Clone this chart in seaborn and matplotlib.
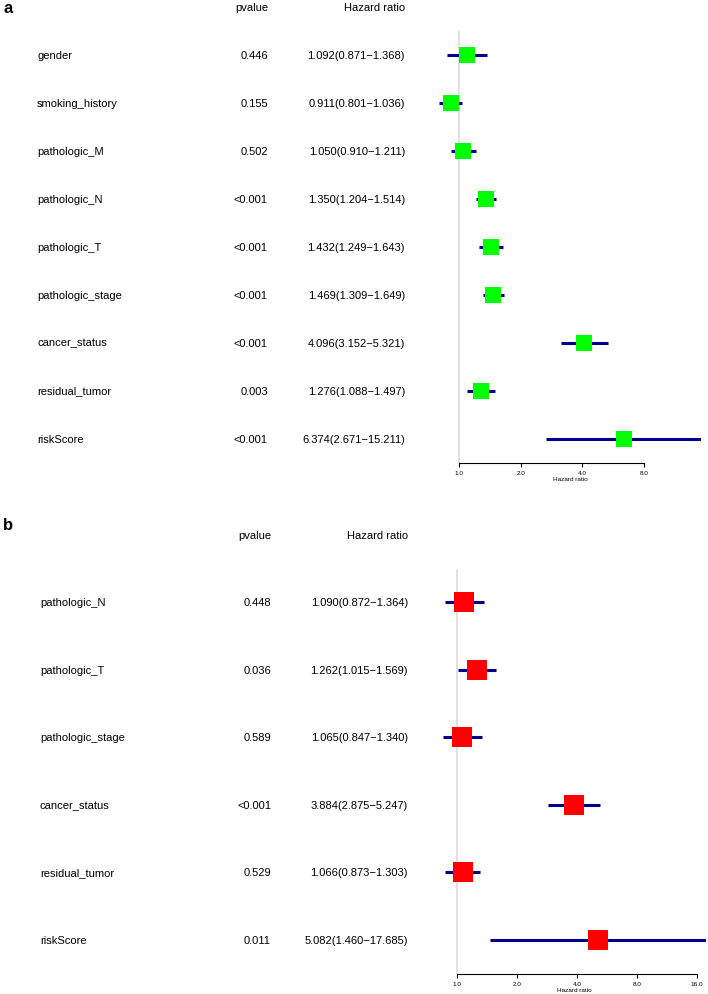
import pandas as pd
import matplotlib
matplotlib.use("Agg")
import matplotlib.pyplot as plt
import matplotlib.transforms as mtransforms
import seaborn as sns

# --- data: panel a (univariate) ---
a_vars = ["gender", "smoking_history", "pathologic_M", "pathologic_N", "pathologic_T",
          "pathologic_stage", "cancer_status", "residual_tumor", "riskScore"]
a_pval = ["0.446", "0.155", "0.502", "<0.001", "<0.001", "<0.001", "<0.001", "0.003", "<0.001"]
a_hr = [1.092, 0.911, 1.050, 1.350, 1.432, 1.469, 4.096, 1.276, 6.374]
a_low = [0.871, 0.801, 0.910, 1.204, 1.249, 1.309, 3.152, 1.088, 2.671]
a_high = [1.368, 1.036, 1.211, 1.514, 1.643, 1.649, 5.321, 1.497, 15.211]
a_ticks = [1, 2, 4, 8]

# --- data: panel b (multivariate) ---
b_vars = ["pathologic_N", "pathologic_T", "pathologic_stage", "cancer_status",
          "residual_tumor", "riskScore"]
b_pval = ["0.448", "0.036", "0.589", "<0.001", "0.529", "0.011"]
b_hr = [1.090, 1.262, 1.065, 3.884, 1.066, 5.082]
b_low = [0.872, 1.015, 0.847, 2.875, 0.873, 1.460]
b_high = [1.364, 1.569, 1.340, 5.247, 1.303, 17.685]
b_ticks = [1, 2, 4, 8, 16]

W, H = 708, 995

sns.set_theme(style="white")
plt.rcParams["font.family"] = ["Liberation Sans", "DejaVu Sans"]
plt.rcParams.update({"text.color": "black", "axes.labelcolor": "black",
                     "xtick.color": "black"})


def forest(fig, box, letter, letter_y, names, pvals, hr, low, high, ticks, color, msize, cols):
    # box = (left, top, right, bottom) in pixels
    left, top, right, bottom = box
    ax = fig.add_axes([left / W, 1 - bottom / H, (right - left) / W, (bottom - top) / H])
    df = pd.DataFrame({"name": names, "hr": hr, "low": low, "high": high,
                       "row": range(len(names))})
    ax.set_xscale("log", base=2)
    ax.axvline(1, color="#d9d9d9", lw=1.1, zorder=0)
    ax.hlines(df["row"], df["low"], df["high"], color="#00008b", lw=2.2, zorder=2)
    sns.scatterplot(data=df, x="hr", y="row", marker="s", s=msize, color=color,
                    linewidth=0, ax=ax, zorder=3, legend=False)
    ax.set_xlim(min(low), max(high))
    ax.set_ylim(len(names) - 0.5, -0.5)
    ax.set_yticks([])
    ax.set_ylabel("")
    for s in ["top", "right", "left"]:
        ax.spines[s].set_visible(False)
    ax.spines["bottom"].set_bounds(ticks[0], ticks[-1])
    ax.spines["bottom"].set_linewidth(0.8)
    ax.spines["bottom"].set_color("black")
    ax.set_xticks(ticks)
    ax.set_xticklabels([f"{t:.1f}" for t in ticks])
    ax.minorticks_off()
    ax.tick_params(axis="x", bottom=True, direction="out", length=3.2, width=0.8,
                   labelsize=4.6, pad=2, color="black")
    ax.set_xlabel("Hazard ratio", fontsize=4.6, labelpad=1)

    # text columns
    tr = mtransforms.blended_transform_factory(fig.transFigure, ax.transData)
    lab_x, p_x, hr_x = cols
    fs = 8
    ax.text(p_x / W, -1, "pvalue", transform=tr, ha="right", va="center", fontsize=fs)
    ax.text(hr_x / W, -1, "Hazard ratio", transform=tr, ha="right", va="center", fontsize=fs)
    fig.text(3 / W, 1 - letter_y / H, letter, ha="left", va="baseline",
             fontsize=12, fontweight="bold")
    for i in range(len(names)):
        ax.text(lab_x / W, i, names[i], transform=tr, ha="left", va="center", fontsize=fs)
        ax.text(p_x / W, i, pvals[i], transform=tr, ha="right", va="center", fontsize=fs)
        ax.text(hr_x / W, i, f"{hr[i]:.3f}({low[i]:.3f}\u2212{high[i]:.3f})",
                transform=tr, ha="right", va="center", fontsize=fs)
    return ax


fig = plt.figure(figsize=(W / 100, H / 100), dpi=100)
forest(fig, (439.3, 31.7, 701.2, 463.5), "a", 13, a_vars, a_pval, a_hr, a_low, a_high,
       a_ticks, "#00ff00", 117, (37, 268, 405))
forest(fig, (442.6, 569.6, 705.7, 974.6), "b", 530, b_vars, b_pval, b_hr, b_low, b_high,
       b_ticks, "#ff0000", 228, (40, 271, 408))
fig.savefig("out.png", dpi=100, facecolor="white")
